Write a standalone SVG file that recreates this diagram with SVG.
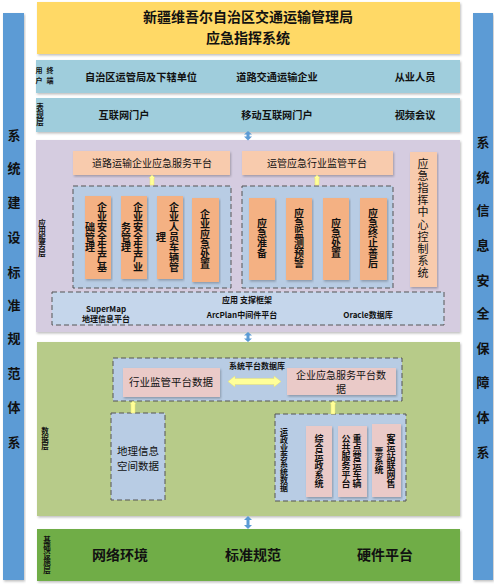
<svg xmlns="http://www.w3.org/2000/svg" width="498" height="584" viewBox="0 0 498 584">
<defs>
<filter id="sh" x="-5%" y="-5%" width="110%" height="115%">
<feDropShadow dx="1" dy="1.5" stdDeviation="1.2" flood-color="#000" flood-opacity="0.25"/>
</filter>
<style>
text{font-family:"Noto Sans CJK SC","Liberation Sans",sans-serif;fill:#111;}
.b{font-weight:bold;}
.v{writing-mode:vertical-rl;text-anchor:middle;}
.c{text-anchor:middle;}
.dash{fill:#B8CCE4;stroke:#555;stroke-width:1;stroke-dasharray:5 3;}
.peach{fill:#F8CBAD;}
.org{fill:#F4B183;}
.pink{fill:#EACAC8;}
.blue{fill:#5B9BD5;}
.yel{fill:#FFFF99;stroke:#E8E070;stroke-width:0.5;}
</style>
</defs>
<rect width="498" height="584" fill="#fff"/>

<g id="left-bar">
<rect x="3" y="13" width="21" height="567" class="blue" filter="url(#sh)"/>
<g class="b c" font-size="13">
<text x="14" y="140">系</text><text x="14" y="173">统</text><text x="14" y="207">建</text><text x="14" y="242">设</text><text x="14" y="277">标</text><text x="14" y="310">准</text><text x="14" y="343">规</text><text x="14" y="378">范</text><text x="14" y="412">体</text><text x="14" y="447">系</text>
</g>
</g>

<g id="right-bar">
<rect x="473" y="13" width="20" height="567" class="blue" filter="url(#sh)"/>
<g class="b c" font-size="13">
<text x="483" y="147">系</text><text x="483" y="182">统</text><text x="483" y="215">信</text><text x="483" y="250">息</text><text x="483" y="285">安</text><text x="483" y="318">全</text><text x="483" y="353">保</text><text x="483" y="387">障</text><text x="483" y="422">体</text><text x="483" y="457">系</text>
</g>
</g>

<g id="title">
<rect x="37" y="2" width="423" height="52" fill="#FFD966" filter="url(#sh)"/>
<text x="248" y="22" class="b c" font-size="14">新疆维吾尔自治区交通运输管理局</text>
<text x="248" y="43" class="b c" font-size="14">应急指挥系统</text>
</g>

<g id="user-layer">
<rect x="36" y="60" width="424" height="33" fill="#9FCDDC" filter="url(#sh)"/>
<g font-size="7" class="b c"><text x="39" y="73">用</text><text x="50" y="73">终</text><text x="39" y="83">户</text><text x="50" y="83">端</text></g>
<g font-size="10.2" class="b c">
<text x="141" y="81">自治区运管局及下辖单位</text>
<text x="277" y="81">道路交通运输企业</text>
<text x="415" y="81">从业人员</text>
</g>
</g>

<g id="presentation-layer">
<rect x="36" y="98" width="424" height="34" fill="#9FCDDC" filter="url(#sh)"/>
<text x="40" y="115" class="b v" font-size="7.5">表现层</text>
<g font-size="10.2" class="b c">
<text x="124" y="119">互联网门户</text>
<text x="277" y="119">移动互联网门户</text>
<text x="415" y="119">视频会议</text>
</g>
</g>

<g id="app-layer">
<rect x="36" y="140" width="424" height="192" fill="#D5CCE0" filter="url(#sh)"/>
<text x="42" y="238" class="b v" font-size="7.5">应用服务层</text>
</g>

<g id="enterprise-platform">
<rect x="73" y="151" width="157" height="24" class="peach" filter="url(#sh)"/>
<text x="152" y="167" class="c" font-size="10">道路运输企业应急服务平台</text>
</g>
<g id="supervision-platform">
<rect x="242" y="151" width="151" height="24" class="peach" filter="url(#sh)"/>
<text x="317" y="167" class="c" font-size="10">运管应急行业监管平台</text>
</g>

<g id="enterprise-modules">
<rect x="73" y="186" width="158" height="102" class="dash"/>
<rect x="85" y="196" width="26" height="83" class="org" filter="url(#sh)"/>
<text x="102" y="237" class="b v" font-size="10">企业安全生产基</text>
<text x="90" y="237" class="b v" font-size="10">础管理</text>
<rect x="121" y="196" width="26" height="83" class="org" filter="url(#sh)"/>
<text x="138" y="237" class="b v" font-size="10">企业安全生产业</text>
<text x="126" y="237" class="b v" font-size="10">务管理</text>
<rect x="157" y="196" width="26" height="83" class="org" filter="url(#sh)"/>
<text x="174" y="237" class="b v" font-size="10">企业人员车辆管</text>
<text x="161" y="237" class="b v" font-size="10">理</text>
<rect x="192" y="198" width="27" height="84" class="org" filter="url(#sh)"/>
<text x="205" y="239" class="b v" font-size="10">企业应急处置</text>
</g>

<g id="emergency-modules">
<rect x="242" y="186" width="151" height="102" class="dash"/>
<rect x="249" y="198" width="26" height="82" class="org" filter="url(#sh)"/>
<text x="262" y="238" class="b v" font-size="10">应急准备</text>
<rect x="286" y="198" width="26" height="82" class="org" filter="url(#sh)"/>
<text x="299" y="238" class="b v" font-size="10">应急监测预警</text>
<rect x="323" y="198" width="26" height="82" class="org" filter="url(#sh)"/>
<text x="336" y="238" class="b v" font-size="10">应急处置</text>
<rect x="360" y="198" width="27" height="82" class="org" filter="url(#sh)"/>
<text x="373" y="238" class="b v" font-size="10">应急终止善后</text>
</g>

<g id="command-center">
<rect x="410" y="152" width="27" height="135" class="peach" filter="url(#sh)"/>
<text x="423" y="219" class="v" font-size="11" letter-spacing="1.2">应急指挥中心控制系统</text>
</g>

<g id="support-framework">
<rect x="52" y="292" width="392" height="33" class="dash" style="fill:#C5D6EB"/>
<g class="b c" font-size="8">
<text x="247" y="303">应用 支撑框架</text>
<text x="106" y="312">SuperMap</text>
<text x="106" y="322">地理信息平台</text>
<text x="242" y="318">ArcPlan中间件平台</text>
<text x="368" y="318">Oracle数据库</text>
</g>
</g>

<g id="data-layer">
<rect x="37" y="342" width="423" height="174" fill="#B7CB89" filter="url(#sh)"/>
<text x="45" y="439" class="b v" font-size="7.5">数据层</text>
</g>

<g id="platform-db">
<rect x="113" y="358" width="289" height="43" class="dash"/>
<text x="257" y="369" class="b c" font-size="8">系统平台数据库</text>
<rect x="123" y="368" width="97" height="29" class="pink" filter="url(#sh)"/>
<text x="171" y="386" class="c" font-size="10.5">行业监管平台数据</text>
<rect x="287" y="368" width="109" height="27" class="pink" filter="url(#sh)"/>
<text x="341" y="378.5" class="c" font-size="10">企业应急服务平台数</text>
<text x="341" y="393" class="c" font-size="10">据</text>
</g>

<g id="geo-data">
<rect x="111" y="413" width="54" height="87" class="dash"/>
<text x="138" y="455" class="c" font-size="10.5">地理信息</text>
<text x="138" y="470" class="c" font-size="10.5">空间数据</text>
</g>

<g id="business-data">
<rect x="275" y="414" width="131" height="87" class="dash"/>
<text x="284" y="460" class="b v" font-size="8">运政业务系统数据</text>
<rect x="306" y="426" width="26" height="71" class="pink" filter="url(#sh)"/>
<text x="319" y="461" class="b v" font-size="9">综合运政系统</text>
<rect x="338" y="426" width="29" height="71" class="pink" filter="url(#sh)"/>
<text x="357" y="461" class="b v" font-size="9">重点营运车辆</text>
<text x="346" y="461" class="b v" font-size="9">公共服务平台</text>
<rect x="372" y="424" width="29" height="73" class="pink" filter="url(#sh)"/>
<text x="391" y="461" class="b v" font-size="9">客运站联网售</text>
<text x="379" y="461" class="b v" font-size="9">票系统</text>
</g>

<g id="infrastructure-layer">
<rect x="37" y="529" width="423" height="52" fill="#70AD47" filter="url(#sh)"/>
<text x="47" y="555" class="b v" font-size="7.5">基础设施层</text>
<g class="b c" font-size="14">
<text x="120" y="560">网络环境</text>
<text x="253" y="560">标准规范</text>
<text x="385" y="560">硬件平台</text>
</g>
</g>

<g id="connectors">
<polygon class="blue" points="248,131 252,134.5 249.5,134.5 249.5,136.5 252,136.5 248,140.5 244,136.5 246.5,136.5 246.5,134.5 244,134.5"/>
<polygon class="blue" points="248,332 252,335.5 249.5,335.5 249.5,338.5 252,338.5 248,342 244,338.5 246.5,338.5 246.5,335.5 244,335.5"/>
<polygon class="blue" points="248,516 252,520 249.5,520 249.5,525 252,525 248,529 244,525 246.5,525 246.5,520 244,520"/>
<polygon class="yel" points="152,175 155,178 154,178 154,185 150,185 150,178 149,178"/>
<polygon class="yel" points="317,175 320,178 319,178 319,185 315,185 315,178 314,178"/>
<polygon class="yel" points="133,401 136,404 135,404 135,413 131,413 131,404 130,404"/>
<polygon class="yel" points="333,401 336,404 335,404 335,414 331,414 331,404 330,404"/>
<polygon class="yel" points="228,381.5 235,376 235,378.5 274,378.5 274,376 281,381.5 274,387 274,384.5 235,384.5 235,387"/>
</g>
</svg>
